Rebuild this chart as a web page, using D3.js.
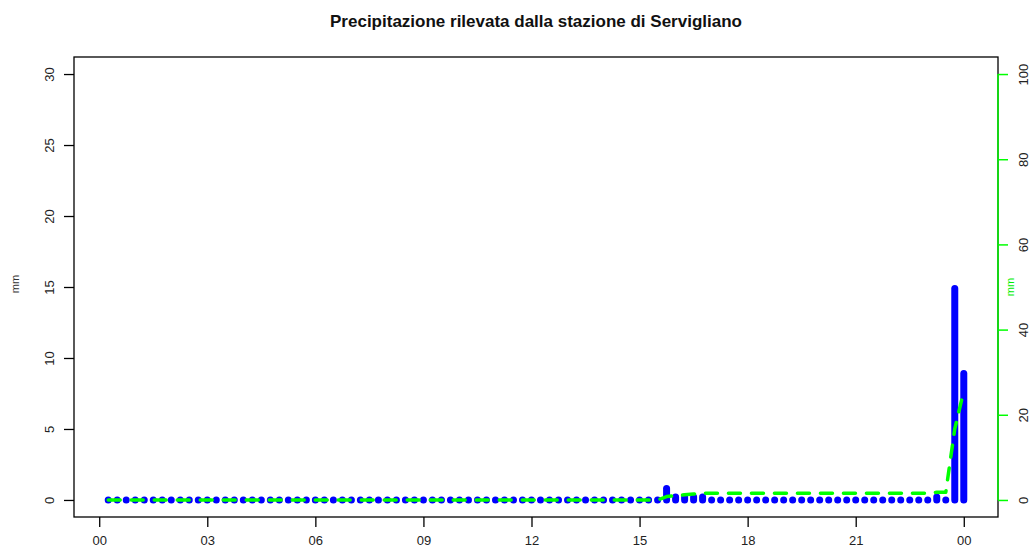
<!DOCTYPE html>
<html>
<head>
<meta charset="UTF-8">
<title>Precipitazione Servigliano</title>
<script src="https://d3js.org/d3.v7.min.js"></script>
<style>
  body { margin: 0; background: #fff; }
  text { font-family: "Liberation Sans", Arial, sans-serif; }
</style>
</head>
<body>
<div id="chart"></div>
<script>
// 15-minute readings, 00:15 .. 24:00
var times = [
  "00:15","00:30","00:45","01:00","01:15","01:30","01:45","02:00",
  "02:15","02:30","02:45","03:00","03:15","03:30","03:45","04:00",
  "04:15","04:30","04:45","05:00","05:15","05:30","05:45","06:00",
  "06:15","06:30","06:45","07:00","07:15","07:30","07:45","08:00",
  "08:15","08:30","08:45","09:00","09:15","09:30","09:45","10:00",
  "10:15","10:30","10:45","11:00","11:15","11:30","11:45","12:00",
  "12:15","12:30","12:45","13:00","13:15","13:30","13:45","14:00",
  "14:15","14:30","14:45","15:00","15:15","15:30","15:45","16:00",
  "16:15","16:30","16:45","17:00","17:15","17:30","17:45","18:00",
  "18:15","18:30","18:45","19:00","19:15","19:30","19:45","20:00",
  "20:15","20:30","20:45","21:00","21:15","21:30","21:45","22:00",
  "22:15","22:30","22:45","23:00","23:15","23:30","23:45","24:00"
];
var rain = [
  0,0,0,0,0,0,0,0,
  0,0,0,0,0,0,0,0,
  0,0,0,0,0,0,0,0,
  0,0,0,0,0,0,0,0,
  0,0,0,0,0,0,0,0,
  0,0,0,0,0,0,0,0,
  0,0,0,0,0,0,0,0,
  0,0,0,0,0,0,0.8,0.2,
  0.2,0.2,0.2,0,0,0,0,0,
  0,0,0,0,0,0,0,0,
  0,0,0,0,0,0,0,0,
  0,0,0,0,0.2,0,14.9,8.9
];
var xTickHours = [0, 3, 6, 9, 12, 15, 18, 21, 24];
var xTickLabels = ["00","03","06","09","12","15","18","21","00"];
var leftTicks = [0, 5, 10, 15, 20, 25, 30];
var rightTicks = [0, 20, 40, 60, 80, 100];

(function(d3) {
  var W = 1031, H = 551;
  var pLeft = 74, pRight = 998, pTop = 57, pBottom = 517;

  var hours = times.map(function(t) {
    var p = t.split(":");
    return +p[0] + p[1] / 60;
  });
  var cum = Array.from(d3.cumsum(rain));

  var svg = d3.select("#chart").append("svg")
    .attr("width", W).attr("height", H);

  var x = d3.scaleLinear().domain([-0.7, 24.95]).range([pLeft, pRight]);
  var y = d3.scaleLinear().domain([-1.2, 31.2]).range([pBottom, pTop]);
  var y2 = d3.scaleLinear().domain([-4, 104]).range([pBottom, pTop]);

  // title
  svg.append("text")
    .attr("x", (pLeft + pRight) / 2).attr("y", 27)
    .attr("text-anchor", "middle")
    .attr("fill", "#111")
    .style("font-weight", "bold").style("font-size", "17px")
    .text("Precipitazione rilevata dalla stazione di Servigliano");

  // bars (type = "h")
  svg.append("g").selectAll("line")
    .data(rain)
    .enter().append("line")
      .attr("x1", function(d, i) { return x(hours[i]); })
      .attr("x2", function(d, i) { return x(hours[i]); })
      .attr("y1", y(0))
      .attr("y2", function(d) { return y(d); })
      .attr("stroke", "#0000ff")
      .attr("stroke-width", 7)
      .attr("stroke-linecap", "round");

  // cumulative
  var line = d3.line()
    .x(function(d, i) { return x(hours[i]); })
    .y(function(d) { return y2(d); });
  svg.append("path")
    .datum(cum)
    .attr("d", line)
    .attr("fill", "none")
    .attr("stroke", "#00ff00")
    .attr("stroke-width", 3.5)
    .attr("stroke-dasharray", "12 11")
    .attr("stroke-linecap", "round")
    .attr("stroke-linejoin", "round");

  // box
  svg.append("rect")
    .attr("x", pLeft).attr("y", pTop)
    .attr("width", pRight - pLeft).attr("height", pBottom - pTop)
    .attr("fill", "none").attr("stroke", "#000").attr("stroke-width", 1.3);

  // x axis
  var xAxis = svg.append("g")
    .attr("transform", "translate(0," + pBottom + ")")
    .call(d3.axisBottom(x).tickValues(xTickHours)
      .tickFormat(function(d, i) { return xTickLabels[i]; })
      .tickSize(10).tickPadding(9));
  xAxis.select(".domain").remove();
  xAxis.selectAll("line").attr("stroke", "#000").attr("stroke-width", 1.3);
  xAxis.selectAll("text").style("font-size", "13px").attr("fill", "#222")
    .style("font-family", "Liberation Sans, Arial, sans-serif");

  // left axis
  var yAxis = svg.append("g")
    .attr("transform", "translate(" + pLeft + ",0)")
    .call(d3.axisLeft(y).tickValues(leftTicks).tickSize(10));
  yAxis.select(".domain").remove();
  yAxis.selectAll("line").attr("stroke", "#000").attr("stroke-width", 1.3);
  yAxis.selectAll("text")
    .attr("x", 0)
    .attr("text-anchor", "middle")
    .attr("transform", "translate(-25,0) rotate(-90)")
    .attr("dy", "0.35em")
    .attr("fill", "#222")
    .style("font-size", "13px")
    .style("font-family", "Liberation Sans, Arial, sans-serif");

  svg.append("text")
    .attr("transform", "translate(19,284) rotate(-90)")
    .attr("text-anchor", "middle")
    .attr("fill", "#333")
    .style("font-size", "11px")
    .text("mm");

  // right axis (cumulative)
  var y2Axis = svg.append("g")
    .attr("transform", "translate(" + pRight + ",0)")
    .call(d3.axisRight(y2).tickValues(rightTicks).tickSize(10));
  y2Axis.select(".domain")
    .attr("d", "M0," + y2(0) + "V" + y2(100))
    .attr("stroke", "#00ff00").attr("stroke-width", 1.5);
  y2Axis.selectAll("line").attr("stroke", "#00ff00").attr("stroke-width", 1.5);
  y2Axis.selectAll("text")
    .attr("x", 0)
    .attr("text-anchor", "middle")
    .attr("transform", "translate(25,0) rotate(-90)")
    .attr("dy", "0.35em")
    .attr("fill", "#222")
    .style("font-size", "13px")
    .style("font-family", "Liberation Sans, Arial, sans-serif");

  svg.append("text")
    .attr("transform", "translate(1014," + ((y2(0) + y2(100)) / 2) + ") rotate(-90)")
    .attr("text-anchor", "middle")
    .attr("fill", "#00ee00")
    .style("font-size", "11px")
    .text("mm");
})(window.d3);
</script>
</body>
</html>
